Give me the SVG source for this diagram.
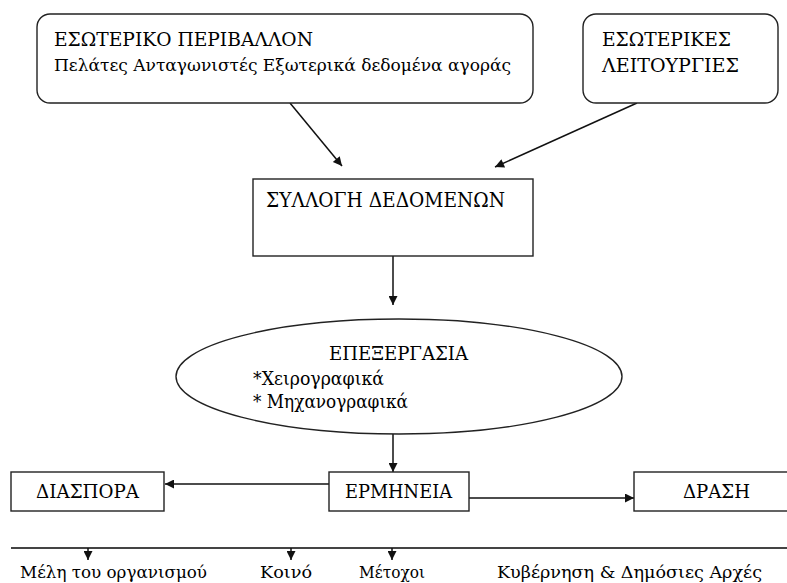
<svg xmlns="http://www.w3.org/2000/svg" width="787" height="583" viewBox="0 0 787 583">
<defs>
<style>
.box{fill:#fff;stroke:#222;stroke-width:1.4}
.t{font-family:"DejaVu Serif","Liberation Serif",serif;fill:#000}
.c{stroke:#111;stroke-width:1.5;fill:none}
</style>
<marker id="ah" viewBox="0 0 10 10" refX="10" refY="5" markerWidth="10" markerHeight="9" markerUnits="userSpaceOnUse" orient="auto">
<path d="M0,0 L10,5 L0,10 z" fill="#111"/>
</marker>
</defs>
<rect width="787" height="583" fill="#fff"/>
<g id="connectors">
<line class="c" x1="290" y1="103" x2="342" y2="166" marker-end="url(#ah)"/>
<line class="c" x1="637" y1="103" x2="495" y2="167" marker-end="url(#ah)"/>
<line class="c" x1="393" y1="256" x2="393" y2="305" marker-end="url(#ah)"/>
<line class="c" x1="393" y1="434" x2="393" y2="472" marker-end="url(#ah)"/>
<line class="c" x1="329" y1="484" x2="165" y2="484" marker-end="url(#ah)"/>
<line class="c" x1="469" y1="498" x2="634" y2="498" marker-end="url(#ah)"/>
<line x1="11" y1="548" x2="787" y2="548" stroke="#444" stroke-width="1.8"/>
<line class="c" x1="88" y1="548" x2="88" y2="560" stroke-width="1.2" marker-end="url(#ah)"/>
<line class="c" x1="291" y1="548" x2="291" y2="560" stroke-width="1.2" marker-end="url(#ah)"/>
<line class="c" x1="392" y1="548" x2="392" y2="560" stroke-width="1.2" marker-end="url(#ah)"/>
</g>
<g id="external-env">
<rect class="box" x="37" y="14" width="496" height="89" rx="13"/>
<text class="t" x="54" y="46" font-size="19" textLength="259" lengthAdjust="spacingAndGlyphs">ΕΣΩΤΕΡΙΚΟ ΠΕΡΙΒΑΛΛΟΝ</text>
<text class="t" x="54" y="71" font-size="17" textLength="457" lengthAdjust="spacingAndGlyphs">Πελάτες  Ανταγωνιστές  Εξωτερικά δεδομένα αγοράς</text>
</g>
<g id="internal-functions">
<rect class="box" x="583" y="14" width="195" height="89" rx="13"/>
<text class="t" x="602" y="46" font-size="19" textLength="129" lengthAdjust="spacingAndGlyphs">ΕΣΩΤΕΡΙΚΕΣ</text>
<text class="t" x="602" y="72" font-size="19" textLength="137" lengthAdjust="spacingAndGlyphs">ΛΕΙΤΟΥΡΓΙΕΣ</text>
</g>
<g id="data-collection">
<rect class="box" x="253" y="179" width="280" height="77"/>
<text class="t" x="266" y="207" font-size="20" textLength="239" lengthAdjust="spacingAndGlyphs">ΣΥΛΛΟΓΗ ΔΕΔΟΜΕΝΩΝ</text>
</g>
<g id="processing">
<ellipse class="box" cx="399" cy="376.5" rx="223" ry="57.5"/>
<text class="t" x="329" y="360" font-size="19" textLength="139" lengthAdjust="spacingAndGlyphs">ΕΠΕΞΕΡΓΑΣΙΑ</text>
<text class="t" x="253" y="385" font-size="19" textLength="131" lengthAdjust="spacingAndGlyphs">*Χειρογραφικά</text>
<text class="t" x="253" y="408" font-size="19" textLength="155" lengthAdjust="spacingAndGlyphs">* Μηχανογραφικά</text>
</g>
<g id="interpretation">
<rect class="box" x="329" y="472" width="140" height="39"/>
<text class="t" x="345" y="498" font-size="19" textLength="107" lengthAdjust="spacingAndGlyphs">ΕΡΜΗΝΕΙΑ</text>
</g>
<g id="dissemination">
<rect class="box" x="11" y="472" width="153" height="39"/>
<text class="t" x="36" y="498" font-size="19" textLength="103" lengthAdjust="spacingAndGlyphs">ΔΙΑΣΠΟΡΑ</text>
</g>
<g id="action">
<rect class="box" x="634" y="472" width="160" height="39"/>
<text class="t" x="683" y="498" font-size="19" textLength="67" lengthAdjust="spacingAndGlyphs">ΔΡΑΣΗ</text>
</g>
<g id="audiences">
<text class="t" x="20" y="578" font-size="17" textLength="187" lengthAdjust="spacingAndGlyphs">Μέλη του οργανισμού</text>
<text class="t" x="260" y="578" font-size="17" textLength="52" lengthAdjust="spacingAndGlyphs">Κοινό</text>
<text class="t" x="359" y="578" font-size="17" textLength="66" lengthAdjust="spacingAndGlyphs">Μέτοχοι</text>
<text class="t" x="497" y="578" font-size="17" textLength="265" lengthAdjust="spacingAndGlyphs">Κυβέρνηση &amp; Δημόσιες Αρχές</text>
</g>
</svg>
